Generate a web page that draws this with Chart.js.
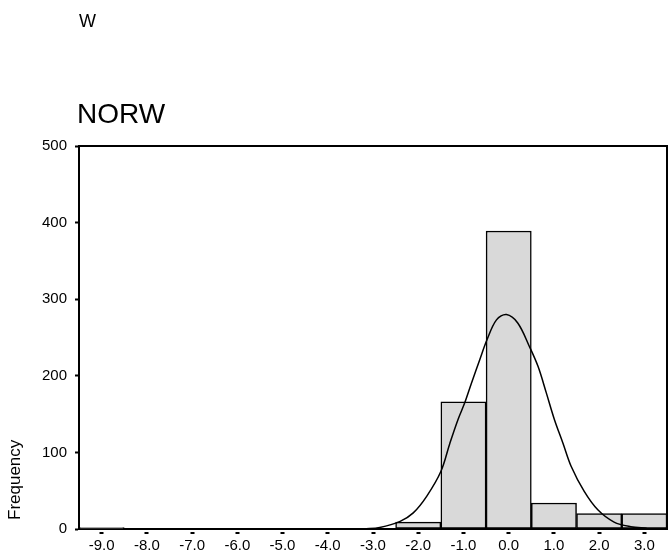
<!DOCTYPE html>
<html>
<head>
<meta charset="utf-8">
<script src="https://cdn.jsdelivr.net/npm/chart.js@4"></script>
<style>
  body { margin: 0; background: #fff; }
  #wrap { width: 670px; height: 556px; }
</style>
</head>
<body>
<div id="wrap"><canvas id="histChart" width="670" height="556"></canvas></div>
<script>
// Histogram of NORW with fitted normal curve (SPSS style)

const binCenters = [-9, -8, -7, -6, -5, -4, -3, -2, -1, 0, 1, 2, 3];
const frequencies = [2, 0, 0, 0, 0, 0, 0, 9, 166, 389, 34, 20, 20];

// normal curve
const curveX = [-3.2, -2.85, -2.4, -2.11, -1.81, -1.5, -1.3, -1.12, -0.97, -0.82, -0.64, -0.48, -0.27, -0.05, 0.2, 0.46, 0.65, 0.83, 1.01, 1.2, 1.38, 1.67, 1.97, 2.33, 2.7, 3.05];
const curveY = [0, 2, 10, 21, 43, 75, 112, 143, 165, 191, 221, 247, 273, 280, 269, 238, 212, 178, 143, 112, 82, 49, 25, 9, 3, 1];

const xTicks = [-9, -8, -7, -6, -5, -4, -3, -2, -1, 0, 1, 2, 3];
const yTicks = [0, 100, 200, 300, 400, 500];

const FONT = '"Liberation Sans", Arial, sans-serif';

// titles, y axis label and the top/right frame lines
const decorPlugin = {
    id: 'decor',
    afterDraw: function(chart) {
        const ctx = chart.ctx;
        const area = chart.chartArea;
        ctx.save();

        ctx.strokeStyle = '#000';
        ctx.lineWidth = 2;
        ctx.beginPath();
        ctx.moveTo(area.left, area.top);
        ctx.lineTo(area.right, area.top);
        ctx.lineTo(area.right, area.bottom);
        ctx.stroke();

        ctx.fillStyle = '#000';
        ctx.textAlign = 'left';
        ctx.textBaseline = 'alphabetic';
        ctx.font = '18px ' + FONT;
        ctx.fillText('W', 79, 27);
        ctx.font = '28px ' + FONT;
        ctx.fillText('NORW', 77, 123);

        ctx.translate(20, 520);
        ctx.rotate(-Math.PI / 2);
        ctx.font = '17px ' + FONT;
        ctx.fillText('Frequency', 0, 0);
        ctx.restore();
    }
};

new Chart(document.getElementById('histChart'), {
    data: {
        datasets: [{
            type: 'line',
            data: curveX.map((x, i) => ({ x: x, y: curveY[i] })),
            borderColor: '#000',
            borderWidth: 1.5,
            pointRadius: 0,
            fill: false,
            tension: 0.35,
            order: 0
        }, {
            type: 'bar',
            data: binCenters.map((x, i) => ({ x: x, y: frequencies[i] })),
            backgroundColor: '#d9d9d9',
            borderColor: '#000',
            borderWidth: 1.5,
            borderSkipped: false,
            barPercentage: 1,
            categoryPercentage: 1,
            order: 1
        }]
    },
    options: {
        responsive: false,
        animation: false,
        layout: { padding: { top: 146, right: 3, left: 0, bottom: 0 } },
        plugins: {
            legend: { display: false },
            tooltip: { enabled: false }
        },
        scales: {
            x: {
                type: 'linear',
                min: -9.5,
                max: 3.5,
                offset: false,
                afterFit: scale => { scale.height = 27; },
                afterBuildTicks: scale => { scale.ticks = xTicks.map(v => ({ value: v })); },
                border: { color: '#000', width: 2 },
                grid: {
                    offset: false,
                    drawOnChartArea: false,
                    drawTicks: true,
                    tickLength: 5,
                    tickWidth: 4,
                    tickColor: '#000',
                    tickBorderDash: [0, 2, 2, 50]
                },
                ticks: {
                    color: '#000',
                    font: { family: FONT, size: 15 },
                    padding: 3,
                    maxRotation: 0,
                    callback: value => Number(value).toFixed(1)
                }
            },
            y: {
                min: 0,
                max: 500,
                afterFit: scale => { scale.width = 79; },
                afterBuildTicks: scale => { scale.ticks = yTicks.map(v => ({ value: v })); },
                border: { color: '#000', width: 2 },
                grid: {
                    drawOnChartArea: false,
                    drawTicks: true,
                    tickLength: 4,
                    tickWidth: 2,
                    tickColor: '#000'
                },
                ticks: {
                    color: '#000',
                    font: { family: FONT, size: 15 },
                    padding: 8
                }
            }
        }
    },
    plugins: [decorPlugin]
});
</script>
</body>
</html>
